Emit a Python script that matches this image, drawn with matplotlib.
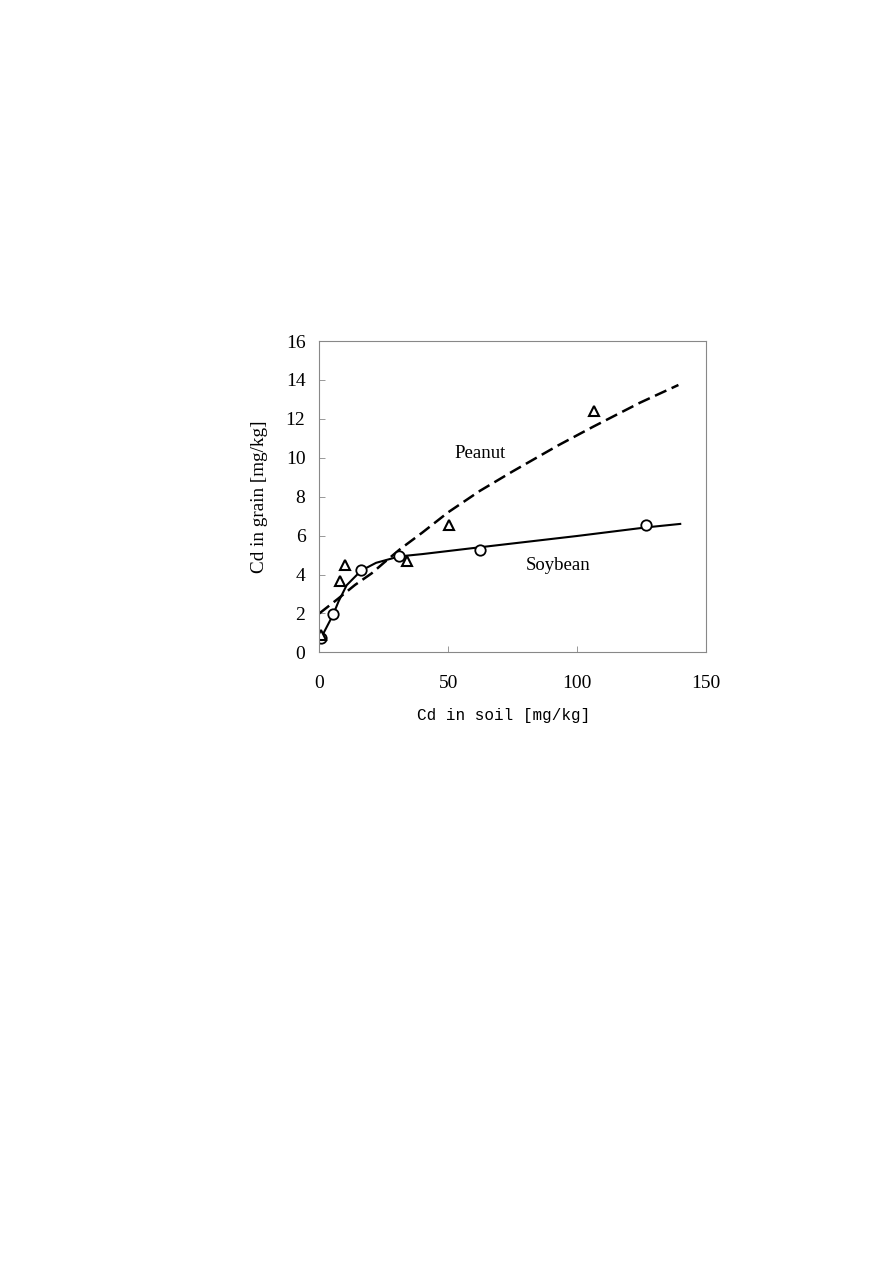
import matplotlib
matplotlib.use("Agg")
import matplotlib.pyplot as plt

# measured points
soy_x = [0.7, 5.4, 16.2, 31.0, 62.3, 126.7]
soy_y = [0.75, 1.95, 4.25, 4.95, 5.28, 6.52]
pea_x = [0.6, 8.0, 9.9, 34.0, 50.3, 106.5]
pea_y = [0.9, 3.65, 4.47, 4.7, 6.52, 12.4]

# fitted curves
soy_fit_x = [0.7, 5.4, 7.4, 10.6, 16.2, 22.0, 31.0, 40.0, 62.3, 100.0, 126.7, 140.0]
soy_fit_y = [0.75, 1.95, 2.6, 3.45, 4.2, 4.6, 4.93, 5.05, 5.4, 5.98, 6.42, 6.6]
pea_fit_x = [0.0, 7.4, 13.8, 20.3, 25.0, 31.3, 40.0, 50.0, 62.3, 75.0, 92.7, 106.0, 124.4, 139.3]
pea_fit_y = [2.0, 2.77, 3.46, 4.06, 4.6, 5.3, 6.16, 7.2, 8.3, 9.3, 10.64, 11.58, 12.83, 13.74]

x_ticks = [0, 50, 100, 150]
y_ticks = [0, 2, 4, 6, 8, 10, 12, 14, 16]

serif = "Liberation Serif"

fig = plt.figure(figsize=(8.93, 12.63), dpi=100)
ax = fig.add_axes([0.3576, 0.4835, 0.433, 0.2465])

ax.plot(pea_fit_x, pea_fit_y, color="black", lw=1.8, dashes=(5, 2.3))
ax.plot(soy_fit_x, soy_fit_y, color="black", lw=1.5)
ax.plot(soy_x, soy_y, "o", ms=7.5, mfc="white", mec="black", mew=1.3, ls="none")
ax.plot(pea_x, pea_y, "^", ms=6.5, mfc="white", mec="black", mew=1.5, ls="none")

ax.text(62.3, 10.23, "Peanut", ha="center", va="center", fontsize=13.5, family=serif)
ax.text(92.7, 4.45, "Soybean", ha="center", va="center", fontsize=13.5, family=serif)

ax.set_xlim(0, 150)
ax.set_ylim(0, 16)
ax.set_xticks(x_ticks)
ax.set_yticks(y_ticks)
ax.tick_params(direction="in", length=4, width=0.6, color="#888888", labelsize=14)
ax.tick_params(axis="x", pad=16)
ax.tick_params(axis="y", pad=10)
for lab in ax.get_xticklabels() + ax.get_yticklabels():
    lab.set_family(serif)
for s in ax.spines.values():
    s.set_color("#888888")
    s.set_linewidth(0.8)

ax.set_xlabel("Cd in soil [mg/kg]", fontsize=11.5, family="Liberation Mono")
ax.xaxis.set_label_coords(0.477, -0.18)
ax.set_ylabel("Cd in grain [mg/kg]", fontsize=13.8, family=serif)
ax.yaxis.set_label_coords(-0.133, 0.5)

fig.savefig("out.png", dpi=100)
